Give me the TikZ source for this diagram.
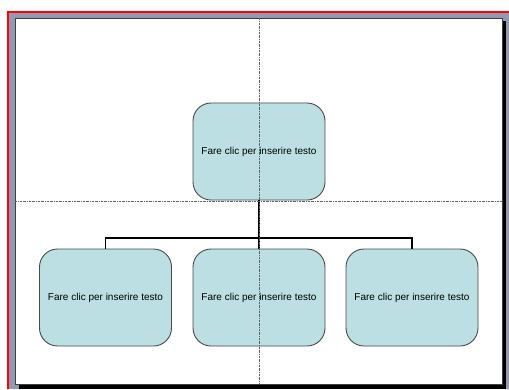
\documentclass[tikz,border=0pt]{standalone}
\usepackage{fontspec}
\setmainfont{Liberation Sans}
\definecolor{bandgrey}{HTML}{9299B1}
\definecolor{boxfill}{HTML}{BBDFE3}
\definecolor{boxline}{HTML}{4A4A4A}
\definecolor{guide}{HTML}{606060}
\tikzset{
  orgbox/.style={draw=boxline, line width=0.9pt, fill=boxfill, rounded corners=18pt,
    minimum width=132pt, minimum height=97pt, inner sep=0pt, font=\fontsize{10}{12}\selectfont},
  conn/.style={draw=black, line width=1.1pt},
  guideline/.style={draw=guide, line width=0.6pt, dash pattern=on 2pt off 1pt on 0.5pt off 1pt},
}
\begin{document}
\begin{tikzpicture}[x=1pt,y=-1pt]
\useasboundingbox (0,0) rectangle (509,389);
\fill[white] (0,0) rectangle (509,389);
% frame
\fill[bandgrey] (9,13) rectangle (509,389);
\fill[red] (7,11) rectangle (509,13);
\fill[red] (7,11) rectangle (9,389);
\fill[black] (19,384) rectangle (506,389);
\fill[black] (502,21) rectangle (506,389);
\filldraw[fill=white, draw=black!75, line width=0.8pt] (15,18) rectangle (502,384);
% boxes
\node[orgbox] (top) at (259,151.5) {Fare clic per inserire testo};
\node[orgbox] (left) at (105.5,297.5) {Fare clic per inserire testo};
\node[orgbox] (mid) at (259,297.5) {Fare clic per inserire testo};
\node[orgbox] (right) at (412,297.5) {Fare clic per inserire testo};
% connectors
\coordinate (bus) at (259,238);
\draw[conn] (top.south) -- (bus);
\draw[conn] (left.north) |- (bus) -| (right.north);
\draw[conn] (mid.north) -- (bus);
% guides
\coordinate (gt) at (259,18);
\coordinate (gb) at (259,384);
\coordinate (gl) at (15,201);
\coordinate (gr) at (502,201);
\draw[guideline] (gt) -- (gb);
\draw[guideline] (gl) -- (gr);
\end{tikzpicture}
\end{document}
